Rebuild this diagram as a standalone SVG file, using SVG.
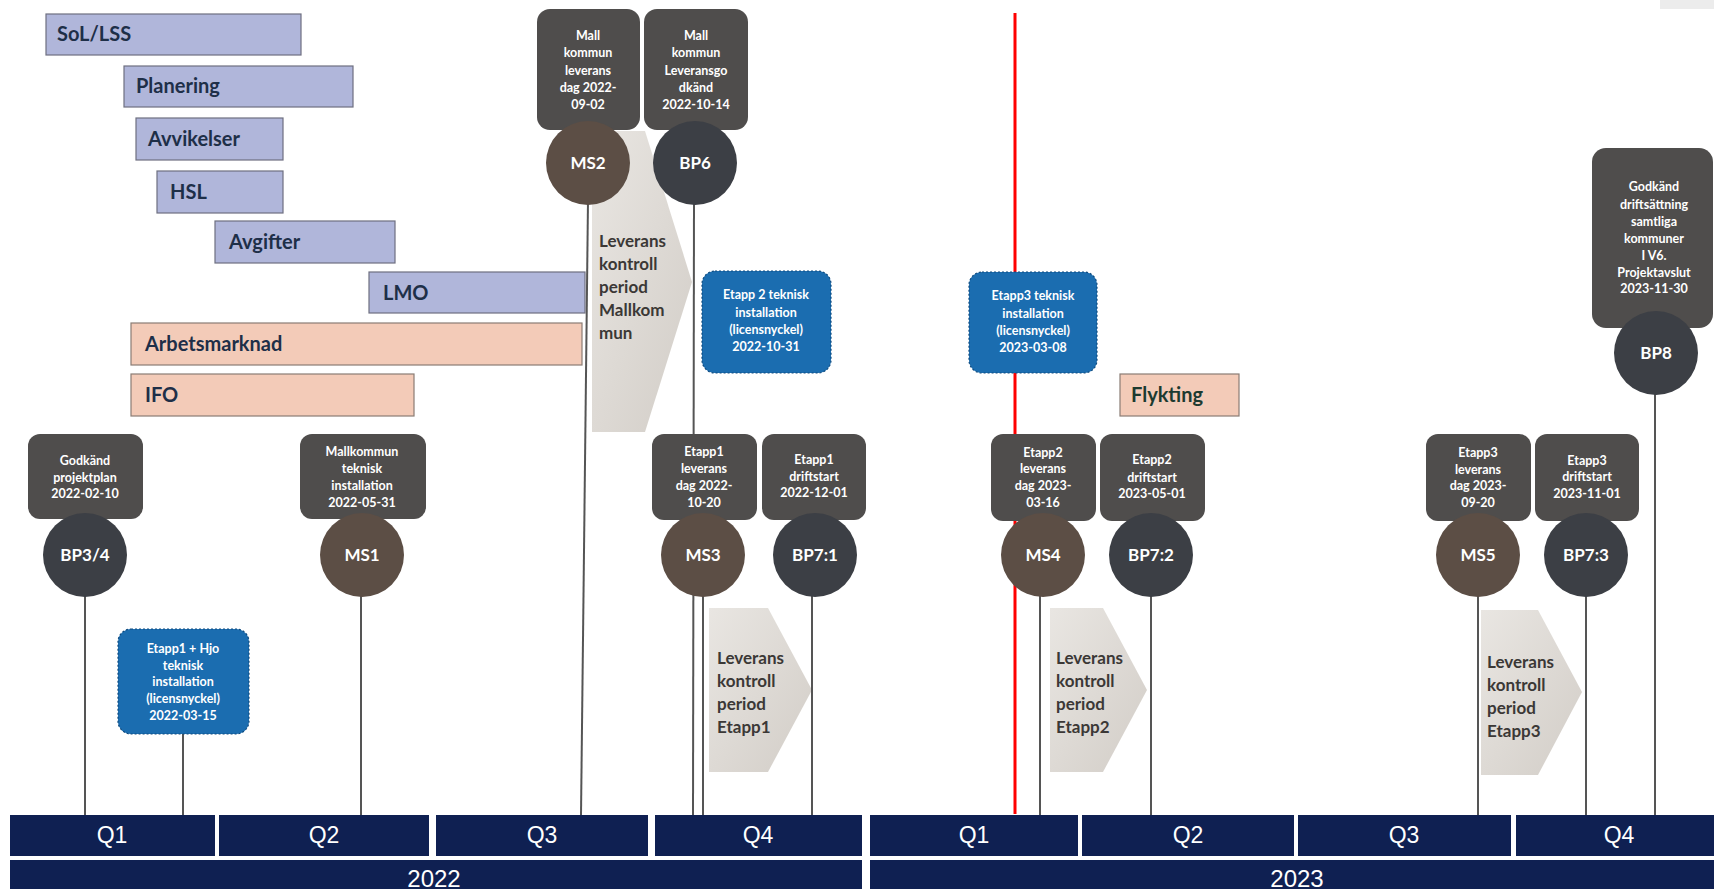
<svg xmlns="http://www.w3.org/2000/svg" width="1714" height="889" viewBox="0 0 1714 889">
<defs>
<style>
.bar-blue{fill:#b0b6da;stroke:#6e6f80;stroke-width:1.2}
.bar-pink{fill:#f3cbb8;stroke:#8a7c74;stroke-width:1.2}
.bar-t{font-family:Lato,"Liberation Sans",sans-serif;font-weight:bold;font-size:20px;fill:#1e2f48}
.box{fill:#4f4d4c}
.bbox{fill:#1b6db0;stroke:#0e4a7e;stroke-width:1.2;stroke-dasharray:2 2}
.box-t{font-family:Lato,"Liberation Sans",sans-serif;font-weight:bold;font-size:12.5px;fill:#ffffff;text-anchor:middle}
.ms{fill:#5c4e45}
.bp{fill:#3c3f45}
.circ-t{font-family:Lato,"Liberation Sans",sans-serif;font-weight:bold;font-size:17px;fill:#ffffff;text-anchor:middle}
.chev{fill:url(#chevg)}
.chev-t{font-family:Lato,"Liberation Sans",sans-serif;font-weight:bold;font-size:17px;fill:#3b3836}
.conn{stroke:#555555;stroke-width:2;fill:none}
.red{stroke:#ff0000;stroke-width:3}
.navy{fill:#0f2052}
.q-t{font-family:"Liberation Sans",Arial,sans-serif;font-size:23px;fill:#ffffff;text-anchor:middle}
</style>
<linearGradient id="chevg" x1="0" y1="0" x2="1" y2="1">
<stop offset="0" stop-color="#e9e6e2"/>
<stop offset="1" stop-color="#d2cdc7"/>
</linearGradient>
</defs>
<rect x="0" y="0" width="1714" height="889" fill="#ffffff"/>
<rect x="1660" y="0" width="54" height="9" fill="#ececec"/>

<!-- bars -->
<g id="bar-sol"><rect class="bar-blue" x="46" y="14" width="255" height="41"/><text class="bar-t" x="57" y="41">SoL/LSS</text></g>
<g id="bar-planering"><rect class="bar-blue" x="124" y="66" width="229" height="41"/><text class="bar-t" x="136" y="93">Planering</text></g>
<g id="bar-avvikelser"><rect class="bar-blue" x="136" y="118" width="147" height="42"/><text class="bar-t" x="148" y="146">Avvikelser</text></g>
<g id="bar-hsl"><rect class="bar-blue" x="157" y="171" width="126" height="42"/><text class="bar-t" x="170" y="199">HSL</text></g>
<g id="bar-avgifter"><rect class="bar-blue" x="215" y="221" width="180" height="42"/><text class="bar-t" x="229" y="249">Avgifter</text></g>
<g id="bar-lmo"><rect class="bar-blue" x="369" y="272" width="216" height="41"/><text class="bar-t" x="383" y="300">LMO</text></g>
<g id="bar-arbetsmarknad"><rect class="bar-pink" x="131" y="323" width="451" height="42"/><text class="bar-t" x="145" y="351">Arbetsmarknad</text></g>
<g id="bar-ifo"><rect class="bar-pink" x="131" y="374" width="283" height="42"/><text class="bar-t" x="145" y="402">IFO</text></g>
<g id="bar-flykting"><rect class="bar-pink" x="1120" y="374" width="119" height="42"/><text class="bar-t" x="1131" y="402" style="fill:#1c3a30">Flykting</text></g>

<!-- chevrons -->
<g id="chev-mallkommun"><polygon class="chev" points="592,131 645,131 692,282 645,432 592,432"/>
<text class="chev-t"><tspan x="599" y="247">Leverans</tspan><tspan x="599" y="270">kontroll</tspan><tspan x="599" y="293">period</tspan><tspan x="599" y="316">Mallkom</tspan><tspan x="599" y="339">mun</tspan></text></g>
<g id="chev-etapp1"><polygon class="chev" points="709,608 768,608 812,690 768,772 709,772"/>
<text class="chev-t"><tspan x="717" y="664">Leverans</tspan><tspan x="717" y="687">kontroll</tspan><tspan x="717" y="710">period</tspan><tspan x="717" y="733">Etapp1</tspan></text></g>
<g id="chev-etapp2"><polygon class="chev" points="1050,608 1103,608 1147,690 1103,772 1050,772"/>
<text class="chev-t"><tspan x="1056" y="664">Leverans</tspan><tspan x="1056" y="687">kontroll</tspan><tspan x="1056" y="710">period</tspan><tspan x="1056" y="733">Etapp2</tspan></text></g>
<g id="chev-etapp3"><polygon class="chev" points="1481,610 1538,610 1582,692 1538,775 1481,775"/>
<text class="chev-t"><tspan x="1487" y="668">Leverans</tspan><tspan x="1487" y="691">kontroll</tspan><tspan x="1487" y="714">period</tspan><tspan x="1487" y="737">Etapp3</tspan></text></g>

<!-- connectors -->
<g id="connectors">
<line class="conn" x1="85" y1="590" x2="85" y2="815"/>
<line class="conn" x1="183" y1="730" x2="183" y2="815"/>
<line class="conn" x1="361" y1="590" x2="361" y2="815"/>
<line class="conn" x1="588" y1="200" x2="581" y2="815"/>
<line class="conn" x1="694" y1="200" x2="693" y2="815"/>
<line class="conn" x1="703" y1="590" x2="703" y2="815"/>
<line class="conn" x1="812" y1="590" x2="812" y2="815"/>
<line class="conn" x1="1040" y1="590" x2="1040" y2="815"/>
<line class="conn" x1="1151" y1="590" x2="1151" y2="815"/>
<line class="conn" x1="1478" y1="590" x2="1478" y2="815"/>
<line class="conn" x1="1586" y1="590" x2="1586" y2="815"/>
<line class="conn" x1="1655" y1="390" x2="1655" y2="815"/>
<line class="red" x1="1015" y1="13" x2="1015" y2="814"/>
</g>

<!-- blue boxes -->
<g id="etapp1-hjo"><rect class="bbox" x="118" y="629" width="131" height="105" rx="13"/>
<text class="box-t"><tspan x="183" y="653">Etapp1 + Hjo</tspan><tspan x="183" y="670">teknisk</tspan><tspan x="183" y="686">installation</tspan><tspan x="183" y="703">(licensnyckel)</tspan><tspan x="183" y="720">2022-03-15</tspan></text></g>
<g id="etapp2-inst"><rect class="bbox" x="702" y="271" width="129" height="102" rx="13"/>
<text class="box-t"><tspan x="766" y="299">Etapp 2 teknisk</tspan><tspan x="766" y="317">installation</tspan><tspan x="766" y="334">(licensnyckel)</tspan><tspan x="766" y="351">2022-10-31</tspan></text></g>
<g id="etapp3-inst"><rect class="bbox" x="969" y="272" width="128" height="101" rx="13"/>
<text class="box-t"><tspan x="1033" y="300">Etapp3  teknisk</tspan><tspan x="1033" y="318">installation</tspan><tspan x="1033" y="335">(licensnyckel)</tspan><tspan x="1033" y="352">2023-03-08</tspan></text></g>

<!-- milestones -->
<g id="ms2"><rect class="box" x="537" y="9" width="103" height="121" rx="13"/>
<text class="box-t"><tspan x="588" y="40">Mall</tspan><tspan x="588" y="57">kommun</tspan><tspan x="588" y="75">leverans</tspan><tspan x="588" y="92">dag 2022-</tspan><tspan x="588" y="109">09-02</tspan></text>
<circle class="ms" cx="588" cy="163" r="42"/><text class="circ-t" x="588" y="169">MS2</text></g>
<g id="bp6"><rect class="box" x="644" y="9" width="104" height="121" rx="13"/>
<text class="box-t"><tspan x="696" y="40">Mall</tspan><tspan x="696" y="57">kommun</tspan><tspan x="696" y="75">Leveransgo</tspan><tspan x="696" y="92">dkänd</tspan><tspan x="696" y="109">2022-10-14</tspan></text>
<circle class="bp" cx="695" cy="163" r="42"/><text class="circ-t" x="695" y="169">BP6</text></g>
<g id="bp3-4"><rect class="box" x="28" y="434" width="115" height="85" rx="12"/>
<text class="box-t"><tspan x="85" y="465">Godkänd</tspan><tspan x="85" y="482">projektplan</tspan><tspan x="85" y="498">2022-02-10</tspan></text>
<circle class="bp" cx="85" cy="555" r="42"/><text class="circ-t" x="85" y="561">BP3/4</text></g>
<g id="ms1"><rect class="box" x="300" y="434" width="126" height="85" rx="12"/>
<text class="box-t"><tspan x="362" y="456">Mallkommun</tspan><tspan x="362" y="473">teknisk</tspan><tspan x="362" y="490">installation</tspan><tspan x="362" y="507">2022-05-31</tspan></text>
<circle class="ms" cx="362" cy="555" r="42"/><text class="circ-t" x="362" y="561">MS1</text></g>
<g id="ms3"><rect class="box" x="652" y="434" width="105" height="86" rx="12"/>
<text class="box-t"><tspan x="704" y="456">Etapp1</tspan><tspan x="704" y="473">leverans</tspan><tspan x="704" y="490">dag 2022-</tspan><tspan x="704" y="507">10-20</tspan></text>
<circle class="ms" cx="703" cy="555" r="42"/><text class="circ-t" x="703" y="561">MS3</text></g>
<g id="bp7-1"><rect class="box" x="762" y="434" width="104" height="86" rx="12"/>
<text class="box-t"><tspan x="814" y="464">Etapp1</tspan><tspan x="814" y="481">driftstart</tspan><tspan x="814" y="497">2022-12-01</tspan></text>
<circle class="bp" cx="815" cy="555" r="42"/><text class="circ-t" x="815" y="561">BP7:1</text></g>
<g id="ms4"><rect class="box" x="991" y="434" width="105" height="87" rx="12"/>
<text class="box-t"><tspan x="1043" y="457">Etapp2</tspan><tspan x="1043" y="473">leverans</tspan><tspan x="1043" y="490">dag 2023-</tspan><tspan x="1043" y="507">03-16</tspan></text>
<circle class="ms" cx="1043" cy="555" r="42"/><text class="circ-t" x="1043" y="561">MS4</text></g>
<g id="bp7-2"><rect class="box" x="1100" y="434" width="105" height="87" rx="12"/>
<text class="box-t"><tspan x="1152" y="464">Etapp2</tspan><tspan x="1152" y="482">driftstart</tspan><tspan x="1152" y="498">2023-05-01</tspan></text>
<circle class="bp" cx="1151" cy="555" r="42"/><text class="circ-t" x="1151" y="561">BP7:2</text></g>
<g id="ms5"><rect class="box" x="1426" y="434" width="105" height="87" rx="12"/>
<text class="box-t"><tspan x="1478" y="457">Etapp3</tspan><tspan x="1478" y="474">leverans</tspan><tspan x="1478" y="490">dag 2023-</tspan><tspan x="1478" y="507">09-20</tspan></text>
<circle class="ms" cx="1478" cy="555" r="42"/><text class="circ-t" x="1478" y="561">MS5</text></g>
<g id="bp7-3"><rect class="box" x="1535" y="434" width="104" height="87" rx="12"/>
<text class="box-t"><tspan x="1587" y="465">Etapp3</tspan><tspan x="1587" y="481">driftstart</tspan><tspan x="1587" y="498">2023-11-01</tspan></text>
<circle class="bp" cx="1586" cy="555" r="42"/><text class="circ-t" x="1586" y="561">BP7:3</text></g>
<g id="bp8"><rect class="box" x="1592" y="148" width="121" height="180" rx="14"/>
<text class="box-t"><tspan x="1654" y="191">Godkänd</tspan><tspan x="1654" y="209">driftsättning</tspan><tspan x="1654" y="226">samtliga</tspan><tspan x="1654" y="243">kommuner</tspan><tspan x="1654" y="260">I V6.</tspan><tspan x="1654" y="277">Projektavslut</tspan><tspan x="1654" y="293">2023-11-30</tspan></text>
<circle class="bp" cx="1656" cy="353" r="42"/><text class="circ-t" x="1656" y="359">BP8</text></g>

<!-- timeline -->
<g id="timeline">
<rect class="navy" x="10" y="815" width="205" height="41"/><text class="q-t" x="112" y="843">Q1</text>
<rect class="navy" x="219" y="815" width="210" height="41"/><text class="q-t" x="324" y="843">Q2</text>
<rect class="navy" x="436" y="815" width="212" height="41"/><text class="q-t" x="542" y="843">Q3</text>
<rect class="navy" x="655" y="815" width="207" height="41"/><text class="q-t" x="758" y="843">Q4</text>
<rect class="navy" x="870" y="815" width="208" height="41"/><text class="q-t" x="974" y="843">Q1</text>
<rect class="navy" x="1082" y="815" width="212" height="41"/><text class="q-t" x="1188" y="843">Q2</text>
<rect class="navy" x="1298" y="815" width="213" height="41"/><text class="q-t" x="1404" y="843">Q3</text>
<rect class="navy" x="1516" y="815" width="198" height="41"/><text class="q-t" x="1619" y="843">Q4</text>
<rect class="navy" x="10" y="860" width="852" height="29"/><text class="q-t" x="434" y="887" style="font-size:24px">2022</text>
<rect class="navy" x="870" y="860" width="844" height="29"/><text class="q-t" x="1297" y="887" style="font-size:24px">2023</text>
</g>
</svg>
